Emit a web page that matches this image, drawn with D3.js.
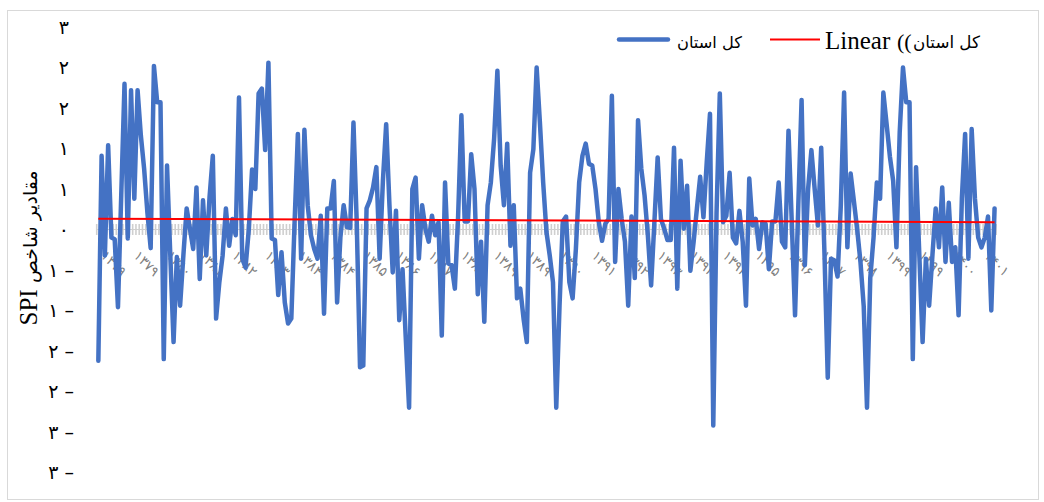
<!DOCTYPE html>
<html><head><meta charset="utf-8">
<script src="https://cdn.jsdelivr.net/npm/d3@7"></script>
<style>body{margin:0;background:#fff}svg{display:block}</style>
</head><body>
<svg id="c" width="1044" height="502"></svg>
<script>
// ---- data ----
const spiValues = [
 -1.62, 0.91, -0.32, 1.04, -0.10, -0.12, -0.96, 0.42, 1.80, -0.11,
 1.72, 0.38, 1.72, 1.16, 0.75, 0.21, -0.23, 2.02, 1.57, 1.57,
 -1.60, 0.79, -0.32, -1.39, -0.34, -0.94, -0.32, 0.26, 0.01, -0.24,
 0.52, -0.61, 0.36, -0.32, 0.40, 0.91, -1.10, -0.65, -0.32, 0.26,
 -0.20, 0.13, -0.07, 1.63, -0.36, -0.47, 0.00, 0.74, 0.50, 1.68,
 1.74, 0.98, 2.06, -0.11, -0.13, -0.81, -0.28, -0.90, -1.16, -1.10,
 0.09, 1.18, -0.36, 1.23, 0.30, -0.07, -0.24, -0.36, 0.17, -1.04,
 0.26, 0.26, 0.60, -0.90, -0.10, 0.30, 0.03, 0.02, 1.32, 0.09,
 -1.70, -1.68, 0.26, 0.36, 0.52, 0.77, -0.36, 0.60, 1.30, 0.30,
 -0.53, 0.23, -1.12, -0.49, -1.35, -2.20, 0.50, 0.64, -0.36, 0.30,
 0.01, -0.15, 0.17, -0.07, 0.09, -1.31, 0.58, -0.42, -0.44, -0.73,
 0.17, 1.41, 0.10, 0.10, 0.93, 0.50, -0.80, -0.15, -1.14, 0.30,
 0.58, 1.12, 1.96, 0.79, 0.30, 1.06, -0.20, 0.30, -0.85, -0.73,
 -1.10, -1.39, 0.70, 0.99, 2.00, 1.32, 0.58, -0.03, -0.32, -0.65,
 -2.20, -0.94, 0.10, 0.16, -0.65, -0.85, -0.24, 0.58, 0.91, 1.06,
 0.81, 0.79, 0.50, 0.09, -0.14, 0.07, 0.13, 1.65, -0.40, 0.50,
 0.13, -0.15, -0.94, 0.16, -0.60, 1.35, 0.75, 0.42, -0.07, -0.69,
 0.09, 0.89, 0.13, 0.01, -0.13, -0.13, 1.01, -0.73, 0.85, 0.01,
 0.54, -0.51, -0.15, 0.26, 0.65, 0.15, 0.83, 1.43, -2.42, 0.20,
 1.68, 0.09, 0.17, 0.70, -0.10, -0.17, 0.23, -0.15, -0.94, 0.63,
 0.05, 0.13, -0.24, 0.09, 0.07, -0.49, 0.10, 0.10, 0.58, -0.15,
 -0.22, 1.22, 0.09, -1.06, 0.30, 1.60, -0.44, 0.50, 0.98, 0.50,
 0.05, 1.01, -0.30, -1.83, -0.36, -0.38, -0.58, 0.30, 1.69, -0.22,
 0.69, 0.35, 0.00, -0.40, -0.95, -2.20, -0.60, -0.10, 0.58, 0.38,
 1.69, 1.30, 0.90, 0.60, -0.22, 1.20, 2.00, 1.57, 1.57, -1.60,
 0.77, -0.32, -1.39, -0.36, -0.94, -0.32, 0.26, -0.22, 0.52, -0.40,
 0.33, -0.40, -0.22, -1.06, 0.38, 1.18, -0.36, 1.24, 0.38, -0.10,
 -0.22, -0.10, 0.16, -1.00, 0.26
];
const xTickLabels = ["۱۳۷۹","۱۳۷۹","۱۳۸۰","۱۳۸۱","۱۳۸۲","۱۳۸۳","۱۳۸۴","۱۳۸۴","۱۳۸۵","۱۳۸۶",
  "۱۳۸۷","۱۳۸۸","۱۳۸۹","۱۳۸۹","۱۳۹۰","۱۳۹۱","۱۳۹۲","۱۳۹۳","۱۳۹۴","۱۳۹۴",
  "۱۳۹۵","۱۳۹۶","۱۳۹۷","۱۳۹۸","۱۳۹۹","۱۳۹۹","۱۴۰۰","۱۴۰۱"];
const labelEvery = 10;
const yTickValues = [2.5, 2, 1.5, 1, 0.5, 0, -0.5, -1, -1.5, -2, -2.5, -3];
const yTickLabels = ["۳","۲","۲","۱","۱","۰","۱","۱","۲","۲","۳","۳"];
const seriesName = "کل استان";
const trendPrefix = "Linear";
const trendParens = "((";
const yTitleLatin = "SPI";
const yTitlePersian = "مقادیر شاخص";

// ---- layout ----
const svg = d3.select("#c");
const plotLeft = 96.7, plotRight = 996.2;
const x = d3.scaleBand().domain(d3.range(spiValues.length)).range([plotLeft, plotRight]).padding(0);
const y = d3.scaleLinear().domain([-3, 2.5]).range([472.5, 27]);
const cx = i => x(i) + x.bandwidth() / 2;
const serif = "'Liberation Serif','Times New Roman',serif";
const persianFont = "'DejaVu Sans',sans-serif";

// chart border
svg.append("rect").attr("x", 7.5).attr("y", 10.5).attr("width", 1031).attr("height", 489)
  .attr("fill", "#fff").attr("stroke", "#d9d9d9").attr("stroke-width", 1);

// x axis (category ticks crossing the zero line)
const y0 = y(0);
const axisG = svg.append("g");
axisG.selectAll("line.tk").data(d3.range(spiValues.length + 1)).join("line")
  .attr("x1", i => plotLeft + i * x.bandwidth()).attr("x2", i => plotLeft + i * x.bandwidth())
  .attr("y1", y0 - 5.5).attr("y2", y0 + 5.5)
  .attr("stroke", "#cfcfcf").attr("stroke-width", 1.6);
axisG.append("line").attr("x1", plotLeft).attr("x2", plotRight).attr("y1", y0).attr("y2", y0)
  .attr("stroke", "#cfcfcf").attr("stroke-width", 1);

// x tick labels (rotated)
svg.append("g").selectAll("text").data(xTickLabels).join("text")
  .attr("transform", (d, k) => `translate(${cx(k * labelEvery) + 2},${y0 + 27}) rotate(45)`)
  .attr("font-family", persianFont).attr("font-size", 13.5).attr("fill", "#7f7f7f")
  .text(d => d);

// y tick labels
const yg = svg.append("g");
yTickValues.forEach((v, k) => {
  const t = yg.append("text").attr("y", y(v)).attr("dy", "0.35em")
    .attr("font-family", persianFont).attr("font-size", 19).attr("fill", "#000")
    .attr("text-anchor", "end");
  if (v < 0) { t.attr("x", 74).text(yTickLabels[k] + " –"); }
  else { t.attr("x", 69).text(yTickLabels[k]); }
});

// y axis title
const yt = svg.append("text").attr("transform", "translate(37,248) rotate(-90)")
  .attr("text-anchor", "middle");
yt.append("tspan").attr("font-family", serif).attr("font-size", 25).text(yTitleLatin + " ");
yt.append("tspan").attr("font-family", persianFont).attr("font-size", 19).text(yTitlePersian);

// series line
const line = d3.line().x((d, i) => cx(i)).y(d => y(d)).curve(d3.curveLinear);
svg.append("path").datum(spiValues).attr("d", line).attr("fill", "none")
  .attr("stroke", "#4472C4").attr("stroke-width", 4.5)
  .attr("stroke-linejoin", "round").attr("stroke-linecap", "round");

// linear trend (least squares)
const n = spiValues.length;
const mx = d3.mean(d3.range(n)), my = d3.mean(spiValues);
let sxy = 0, sxx = 0;
spiValues.forEach((v, i) => { sxy += (i - mx) * (v - my); sxx += (i - mx) * (i - mx); });
const slope = sxy / sxx, icpt = my - slope * mx;
svg.append("line").attr("x1", cx(0)).attr("x2", cx(n - 1))
  .attr("y1", y(icpt)).attr("y2", y(icpt + slope * (n - 1)))
  .attr("stroke", "#FF0000").attr("stroke-width", 2);

// legend
const lg = svg.append("g");
lg.append("line").attr("x1", 619).attr("x2", 668).attr("y1", 39.5).attr("y2", 39.5)
  .attr("stroke", "#4472C4").attr("stroke-width", 4.5).attr("stroke-linecap", "round");
const l1 = lg.append("text").attr("x", 677).attr("y", 48).attr("font-family", persianFont)
  .attr("font-size", 18).text(seriesName);
lg.append("line").attr("x1", 770).attr("x2", 820).attr("y1", 39.5).attr("y2", 39.5)
  .attr("stroke", "#FF0000").attr("stroke-width", 2);
lg.append("text").attr("x", 825).attr("y", 49).attr("font-family", serif)
  .attr("font-size", 25).text(trendPrefix);
lg.append("text").attr("x", 897).attr("y", 49).attr("font-family", serif)
  .attr("font-size", 22).text(trendParens);
const l2 = lg.append("text").attr("x", 913).attr("y", 48).attr("font-family", persianFont)
  .attr("font-size", 18).text(seriesName);

function fit(sel, target) {
  const w = sel.node().getComputedTextLength();
  const fs = parseFloat(sel.attr("font-size"));
  sel.attr("font-size", fs * target / w);
}
fit(l1, 65); fit(l2, 67);
</script>
</body></html>
